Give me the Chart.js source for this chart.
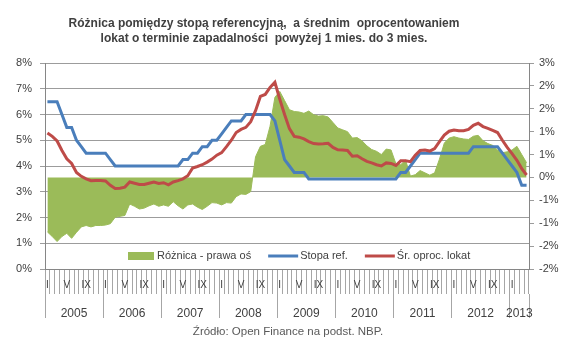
<!DOCTYPE html>
<html>
<head>
<meta charset="utf-8">
<script src="https://cdn.jsdelivr.net/npm/chart.js@4.4.1/dist/chart.umd.min.js"></script>
<style>
  html, body { margin: 0; padding: 0; background: #fff; }
</style>
</head>
<body>
<canvas id="chart" width="572" height="355"></canvas>
<script>
const years = ['2005', '2006', '2007', '2008', '2009', '2010', '2011', '2012', '2013'];
const monthNames = ['I', '', '', '', 'V', '', '', '', 'IX', '', '', ''];

// stopa referencyjna NBP, % (lewa oś)
const stopaRef = [
  6.5, 6.5, 6.5, 6.0, 5.5, 5.5, 5.0, 4.75, 4.5, 4.5, 4.5, 4.5,
  4.5, 4.25, 4.0, 4.0, 4.0, 4.0, 4.0, 4.0, 4.0, 4.0, 4.0, 4.0,
  4.0, 4.0, 4.0, 4.0, 4.25, 4.25, 4.5, 4.5, 4.75, 4.75, 5.0, 5.0,
  5.25, 5.5, 5.75, 5.75, 5.75, 6.0, 6.0, 6.0, 6.0, 6.0, 6.0, 5.75,
  5.0, 4.25, 4.0, 3.75, 3.75, 3.75, 3.5, 3.5, 3.5, 3.5, 3.5, 3.5,
  3.5, 3.5, 3.5, 3.5, 3.5, 3.5, 3.5, 3.5, 3.5, 3.5, 3.5, 3.5,
  3.5, 3.75, 3.75, 4.0, 4.25, 4.5, 4.5, 4.5, 4.5, 4.5, 4.5, 4.5,
  4.5, 4.5, 4.5, 4.5, 4.75, 4.75, 4.75, 4.75, 4.75, 4.75, 4.5, 4.25,
  4.0, 3.75, 3.25, 3.25
];

// średnie oprocentowanie lokat 1-3 mies., % (lewa oś)
const srOprocLokat = [
  5.28, 5.15, 4.97, 4.6, 4.28, 4.1, 3.75, 3.6, 3.5, 3.43, 3.44, 3.44,
  3.42, 3.25, 3.13, 3.14, 3.18, 3.38, 3.33, 3.28, 3.28, 3.33, 3.38, 3.32,
  3.35, 3.27, 3.38, 3.43, 3.5, 3.62, 3.92, 3.98, 4.05, 4.15, 4.27, 4.42,
  4.52, 4.75, 5.0, 5.3, 5.42, 5.5, 5.72, 6.15, 6.7, 6.78, 7.05, 7.25,
  6.6, 6.0, 5.45, 5.15, 5.12, 5.05, 4.95, 4.87, 4.85, 4.86, 4.88, 4.72,
  4.63, 4.62, 4.6, 4.38, 4.4, 4.28, 4.18, 4.12, 4.05, 4.0, 4.12, 4.1,
  4.02, 4.2, 4.2, 4.17, 4.42, 4.6, 4.62, 4.58, 4.68, 4.95, 5.2, 5.35,
  5.4, 5.37, 5.37, 5.42, 5.58, 5.66, 5.53, 5.46, 5.38, 5.3, 5.0, 4.72,
  4.48, 4.22, 3.9, 3.65
];

// różnica, p.p. (prawa oś)
const roznica = [
  -1.19, -1.29, -1.4, -1.29, -1.22, -1.33, -1.2, -1.08, -1.05, -1.08, -1.05, -1.05,
  -1.04, -1.01, -0.87, -0.85, -0.83, -0.58, -0.63, -0.69, -0.67, -0.62, -0.58, -0.63,
  -0.6, -0.63, -0.53, -0.62, -0.69, -0.6, -0.58, -0.65, -0.7, -0.63, -0.55, -0.56,
  -0.6, -0.55, -0.56, -0.42, -0.36, -0.37, -0.31, 0.45, 0.68, 0.72, 1.12, 1.75,
  1.88, 1.68, 1.48, 1.44, 1.43, 1.4, 1.45, 1.37, 1.34, 1.35, 1.32, 1.2,
  1.08, 1.04, 1.0, 0.86, 0.87, 0.8, 0.69, 0.61, 0.57, 0.5, 0.62, 0.6,
  0.3, 0.28, 0.38, 0.03, 0.06, 0.15, 0.1, 0.05, 0.1, 0.4, 0.75, 0.86,
  0.89, 0.86, 0.84, 0.83, 0.9, 0.92, 0.8, 0.74, 0.7, 0.6, 0.54, 0.56,
  0.6, 0.68, 0.5, 0.32
];

const months = stopaRef.map((v, i) => monthNames[i % 12]);

const FONT = 'Liberation Sans, Arial, sans-serif';
const GRID = '#9c9c9c';
const AXIS = '#868686';
const TEXT = '#404040';

// granice lat i środki lat na osi lat (x2, liniowa 0..liczba miesięcy)
const yearBounds = years.map((y, k) => k * 12).concat([months.length]);
const yearCenters = {};
years.forEach((y, k) => {
  const end = Math.min((k + 1) * 12, months.length);
  yearCenters[(k * 12 + end) / 2] = y;
});

// Excel "0%" rounds half away from zero
function pctRound(v) {
  const r = Math.sign(v) * Math.round(Math.abs(v));
  return (r === 0 ? 0 : r) + '%';
}

const textPlugin = {
  id: 'texts',
  afterDraw(chart) {
    const ctx = chart.ctx;
    ctx.save();
    // tytuł
    ctx.fillStyle = TEXT;
    ctx.textAlign = 'center';
    ctx.textBaseline = 'middle';
    ctx.font = 'bold 12px ' + FONT;
    ctx.fillText('Różnica pomiędzy stopą referencyjną,  a średnim  oprocentowaniem', 264, 24);
    ctx.fillText('lokat o terminie zapadalności  powyżej 1 mies. do 3 mies.', 264, 38.5);
    // źródło
    ctx.fillStyle = '#595959';
    ctx.font = '11.5px ' + FONT;
    ctx.fillText('Źródło: Open Finance na podst. NBP.', 288, 332);

    // legenda w obszarze wykresu
    ctx.font = '11px ' + FONT;
    ctx.textAlign = 'left';
    ctx.fillStyle = TEXT;
    let x = 128;
    const y = 256;
    chart.data.datasets.forEach(ds => {
      if (ds.fill) {
        ctx.fillStyle = ds.backgroundColor;
        ctx.fillRect(x, y - 4, 26, 8);
        x += 29;
      } else {
        ctx.strokeStyle = ds.borderColor;
        ctx.lineWidth = 3;
        ctx.beginPath();
        ctx.moveTo(x, y);
        ctx.lineTo(x + 30, y);
        ctx.stroke();
        x += 32;
      }
      ctx.fillStyle = TEXT;
      ctx.fillText(ds.label, x, y);
      x += ctx.measureText(ds.label).width + 17;
    });
    ctx.restore();
  }
};

new Chart(document.getElementById('chart'), {
  type: 'line',
  data: {
    labels: months,
    datasets: [
      {
        label: 'Różnica - prawa oś',
        data: roznica,
        yAxisID: 'y2',
        fill: 'origin',
        backgroundColor: '#9bbb59',
        borderColor: '#9bbb59',
        borderWidth: 1,
        pointRadius: 0,
        order: 3
      },
      {
        label: 'Stopa ref.',
        data: stopaRef,
        yAxisID: 'y',
        fill: false,
        borderColor: '#4a7ebb',
        borderWidth: 3,
        pointRadius: 0,
        order: 2
      },
      {
        label: 'Śr. oproc. lokat',
        data: srOprocLokat,
        yAxisID: 'y',
        fill: false,
        borderColor: '#be4b48',
        borderWidth: 3,
        pointRadius: 0,
        order: 1
      }
    ]
  },
  options: {
    responsive: false,
    animation: false,
    layout: { padding: { top: 63, left: 0, right: 0, bottom: 0 } },
    plugins: {
      legend: { display: false },
      title: { display: false },
      tooltip: { enabled: false }
    },
    scales: {
      x: {
        type: 'category',
        position: 'bottom',
        offset: true,
        grid: { offset: true, drawOnChartArea: false, tickLength: 25, color: '#a6a6a6' },
        border: { display: true, color: AXIS },
        ticks: {
          autoSkip: false, maxRotation: 0, minRotation: 0, padding: -15,
          color: TEXT, font: { family: FONT, size: 10 }
        },
        afterFit: s => { s.height = 25; }
      },
      x2: {
        type: 'linear',
        position: 'bottom',
        weight: 1,
        min: 0,
        max: months.length,
        grid: {
          drawOnChartArea: false,
          tickLength: 24,
          color: c => (c.tick && yearBounds.includes(c.tick.value)) ? '#a6a6a6' : 'rgba(0,0,0,0)'
        },
        border: { display: false },
        afterBuildTicks: s => {
          s.ticks = yearBounds.concat(Object.keys(yearCenters).map(Number))
            .sort((a, b) => a - b).map(v => ({ value: v }));
        },
        ticks: {
          autoSkip: false, maxRotation: 0, minRotation: 0, padding: -12,
          color: TEXT, font: { family: FONT, size: 12 },
          callback: v => yearCenters[v] || ''
        },
        afterFit: s => { s.height = 61; }
      },
      y: {
        position: 'left',
        min: 0,
        max: 8,
        grid: { color: GRID, tickLength: 5 },
        border: { color: AXIS },
        ticks: {
          stepSize: 1, padding: 8, color: TEXT, font: { family: FONT, size: 11 },
          callback: v => v + '%'
        },
        afterFit: s => { s.width = 45; }
      },
      y2: {
        position: 'right',
        min: -2,
        max: 2.5,
        grid: { drawOnChartArea: false, color: GRID, tickLength: 5 },
        border: { color: AXIS },
        ticks: {
          stepSize: 0.5, padding: 5, color: TEXT, font: { family: FONT, size: 11 },
          callback: v => pctRound(v)
        },
        afterFit: s => { s.width = 43; }
      }
    }
  },
  plugins: [textPlugin]
});
</script>
</body>
</html>
